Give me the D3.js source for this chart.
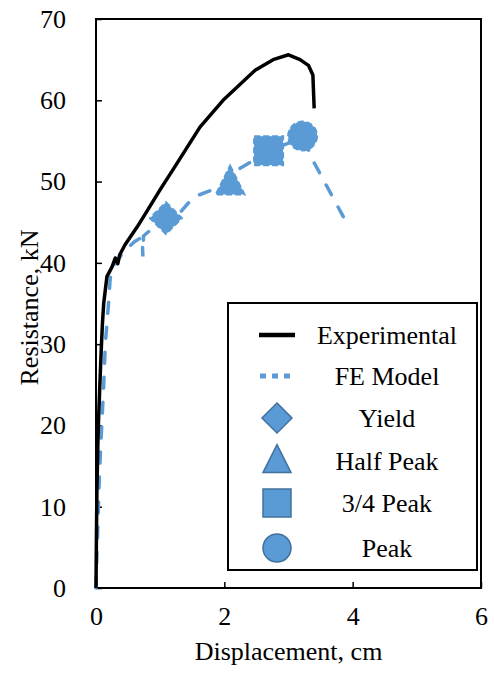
<!DOCTYPE html>
<html>
<head>
<meta charset="utf-8">
<script src="https://cdn.jsdelivr.net/npm/d3@7"></script>
<style>
  body { margin: 0; background: #fff; }
  text { font-family: "Liberation Serif", "Times New Roman", serif; fill: #000; }
</style>
</head>
<body>
<div id="chart"></div>
<script>
// chart size
var svgWidth = 494;
var svgHeight = 673;

var margin = { top: 19, right: 13, bottom: 85, left: 96 };
var width = svgWidth - margin.left - margin.right;
var height = svgHeight - margin.top - margin.bottom;

// experimental curve (displacement cm, resistance kN)
var expDisp = [0, 0.005, 0.015, 0.03, 0.04, 0.06, 0.08, 0.1, 0.12, 0.15, 0.17, 0.25, 0.3, 0.34, 0.37, 0.45, 0.64, 0.79, 1.0, 1.21, 1.62, 1.98, 2.48, 2.76, 3.0, 3.18, 3.31, 3.38, 3.40];
var expLoad = [0, 5, 12.5, 18, 20.7, 25, 29, 32.5, 35, 37, 38.3, 39.5, 40.6, 39.9, 41, 42.2, 44.4, 46.3, 49, 51.6, 56.7, 60, 63.7, 65, 65.6, 65.0, 64.3, 63.1, 59.0];

// FE model curve
var feDisp = [0, 0.01, 0.03, 0.045, 0.07, 0.09, 0.12, 0.145, 0.175, 0.2, 0.22, 0.26, 0.33, 0.45, 0.6, 0.72, 0.73, 0.74, 0.9, 1.09, 1.31, 1.52, 1.72, 1.9, 2.09, 2.24, 2.45, 2.69, 2.99, 3.22, 3.38, 3.88];
var feLoad = [0, 3, 8, 12, 17, 20, 25, 30, 33, 35.5, 38, 39.5, 40.3, 41.5, 42.6, 43.2, 40.8, 43.3, 44.4, 45.5, 46.2, 48.1, 48.7, 49.2, 50.0, 51.6, 52.6, 53.8, 54.7, 55.6, 52.6, 45.3];

// marker points on the FE curve
var markerNames = ["Yield", "Half Peak", "3/4 Peak", "Peak"];
var markerShapes = ["diamond", "triangle", "square", "circle"];
var markerDisp = [1.09, 2.09, 2.69, 3.22];
var markerLoad = [45.5, 50.0, 53.8, 55.6];

var xTicks = [0, 2, 4, 6];
var yTicks = [0, 10, 20, 30, 40, 50, 60, 70];

var blue = "#5B9BD5";
var blueEdge = "#41719C";

var svg = d3.select("#chart")
  .append("svg")
  .attr("width", svgWidth)
  .attr("height", svgHeight);

var chartGroup = svg.append("g")
  .attr("transform", `translate(${margin.left},${margin.top})`);

var xScale = d3.scaleLinear().domain([0, 6]).range([0, width]);
var yScale = d3.scaleLinear().domain([0, 70]).range([height, 0]);

// axes, ticks pointing inside
var bottomAxis = d3.axisBottom(xScale).tickValues(xTicks).tickSize(-6).tickPadding(19).tickFormat(d3.format("d"));
var leftAxis = d3.axisLeft(yScale).tickValues(yTicks).tickSize(-6).tickPadding(30).tickFormat(d3.format("d"));

var xAxis = chartGroup.append("g")
  .attr("transform", `translate(0, ${height})`)
  .call(bottomAxis);
var yAxis = chartGroup.append("g")
  .call(leftAxis);

[xAxis, yAxis].forEach(function(ax) {
  ax.select(".domain").remove();
  ax.selectAll("line").attr("stroke", "#000").attr("stroke-width", 1.5);
  ax.selectAll("text").style("font-size", "26px").attr("fill", "#000");
});

// frame
chartGroup.append("rect")
  .attr("x", 0).attr("y", 0)
  .attr("width", width).attr("height", height)
  .attr("fill", "none")
  .attr("stroke", "#000")
  .attr("stroke-width", 2);

var line = d3.line()
  .x(d => xScale(d[0]))
  .y(d => yScale(d[1]));

var feData = feDisp.map((d, i) => [d, feLoad[i]]);
var expData = expDisp.map((d, i) => [d, expLoad[i]]);

// FE model dashed line
chartGroup.append("path")
  .datum(feData)
  .attr("d", line)
  .attr("fill", "none")
  .attr("stroke", blue)
  .attr("stroke-width", 3.5)
  .attr("stroke-dasharray", "11,14")
  .attr("stroke-linecap", "round");

// markers
var symbolTypes = {
  diamond: d3.symbolDiamond2,
  triangle: d3.symbolTriangle2,
  square: d3.symbolSquare2,
  circle: d3.symbolCircle
};

function shapePath(shape, size) {
  if (shape === "diamond") {
    var h = size / 2;
    return `M0,${-h}L${h},0L0,${h}L${-h},0Z`;
  }
  if (shape === "triangle") {
    var hw = size / 2;
    return `M0,${-size * 0.55}L${hw},${size * 0.45}L${-hw},${size * 0.45}Z`;
  }
  if (shape === "square") {
    var s = size / 2;
    return `M${-s},${-s}H${s}V${s}H${-s}Z`;
  }
  return d3.symbol().type(symbolTypes.circle).size(Math.PI * (size / 2) * (size / 2))();
}

chartGroup.selectAll(".marker")
  .data(markerNames)
  .enter()
  .append("path")
  .attr("class", "marker")
  .attr("transform", (d, i) => `translate(${xScale(markerDisp[i])},${yScale(markerLoad[i])})`)
  .attr("d", (d, i) => shapePath(markerShapes[i], i === 0 ? 32 : 29))
  .attr("fill", blue)
  .attr("stroke", blue)
  .attr("stroke-width", 2)
  .attr("stroke-dasharray", "6,3");

// experimental line
chartGroup.append("path")
  .datum(expData)
  .attr("d", line)
  .attr("fill", "none")
  .attr("stroke", "#000")
  .attr("stroke-width", 3.5)
  .attr("stroke-linejoin", "round");

// axis titles
svg.append("text")
  .attr("x", margin.left + width / 2)
  .attr("y", 660)
  .attr("text-anchor", "middle")
  .style("font-size", "26px")
  .text("Displacement, cm");

svg.append("text")
  .attr("transform", `translate(38, ${margin.top + height / 2 + 4}) rotate(-90)`)
  .attr("text-anchor", "middle")
  .style("font-size", "26px")
  .text("Resistance, kN");

// legend
var legend = svg.append("g");
legend.append("rect")
  .attr("x", 228).attr("y", 303)
  .attr("width", 249).attr("height", 267)
  .attr("fill", "#fff")
  .attr("stroke", "#000")
  .attr("stroke-width", 2);

var legendNames = ["Experimental", "FE Model"].concat(markerNames);
var legendY = [335, 376, 418, 461, 503, 548];
var symX = 277;
var textX = 387;

legend.append("line")
  .attr("x1", 259).attr("x2", 295)
  .attr("y1", legendY[0]).attr("y2", legendY[0])
  .attr("stroke", "#000")
  .attr("stroke-width", 4.5);

legend.append("line")
  .attr("x1", 260).attr("x2", 292)
  .attr("y1", legendY[1]).attr("y2", legendY[1])
  .attr("stroke", blue)
  .attr("stroke-width", 5)
  .attr("stroke-dasharray", "6,6");

markerShapes.forEach(function(shape, i) {
  legend.append("path")
    .attr("transform", `translate(${symX},${legendY[i + 2] + (shape === "triangle" ? -1 : 0)})`)
    .attr("d", shapePath(shape, i === 0 ? 30 : 28))
    .attr("fill", blue)
    .attr("stroke", blueEdge)
    .attr("stroke-width", 1.5);
});

legend.selectAll(".legend-text")
  .data(legendNames)
  .enter()
  .append("text")
  .attr("class", "legend-text")
  .attr("x", textX)
  .attr("y", (d, i) => legendY[i] + 9)
  .attr("text-anchor", "middle")
  .style("font-size", "26px")
  .text(d => d);
</script>
</body>
</html>
